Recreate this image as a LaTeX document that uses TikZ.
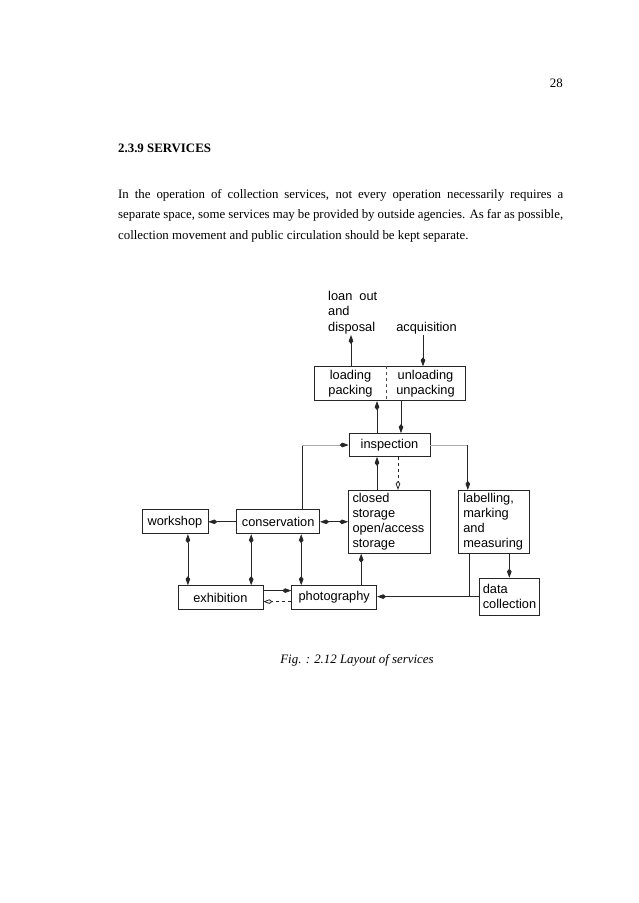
\documentclass[tikz,border=0pt]{standalone}
\usepackage{fontspec}
\setmainfont{Liberation Serif}
\newfontfamily\diagfont{Liberation Sans}
\usetikzlibrary{arrows.meta, positioning}

\begin{document}
\begin{tikzpicture}[x=1pt, y=-1pt,
    >={Kite[length=9pt, width=4.6pt, inset=2.8pt]},
    txt/.style={inner sep=0pt, font=\fontsize{12.86}{20.7}\selectfont},
    box/.style={draw=black!85, line width=0.8pt, inner sep=0pt,
                font=\diagfont\fontsize{12.8}{15}\selectfont},
    lbl/.style={inner sep=1pt, font=\diagfont\fontsize{12.8}{15.5}\selectfont},
    link/.style={line width=0.8pt, black!85},
    faint/.style={line width=0.7pt, gray!65},
    openhead/.style={-{Kite[open, length=9pt, width=4.6pt, inset=2.8pt]}},
    darkhead/.style={-{Kite[length=9pt, width=4.6pt, inset=2.8pt, color=black!85]}}]

  % page
  \fill[white] (0,0) rectangle (638,903);
  \useasboundingbox (0,0) rectangle (638,903);

  % Text of the page
  \node[txt, anchor=base east] (pnum) at (563,87) {28};
  \node[txt, font=\fontsize{12.86}{20.7}\selectfont\bfseries, anchor=base west]
    (head) at (118,152) {2.3.9 SERVICES};
  \node[txt, anchor=north west, text width=445pt, align=justify] (para) at (118,189)
    {In the operation of collection services, not every operation necessarily requires a\linebreak
     separate space, some services may be provided by outside agencies. As far as possible,\linebreak
     collection movement and public circulation should be kept separate.};
  \node[txt, font=\fontsize{12.86}{20.7}\selectfont\itshape, anchor=base]
    (cap) at (357,663) {Fig. : 2.12 Layout of services};

  % Boxes
  \node[box, minimum width=81pt, minimum height=23pt] (insp) at (389.5,445) {inspection};
  \node[box, minimum width=151pt, minimum height=34pt, above=32pt of insp] (load) {};
  \node[lbl, align=center] (pack) at ([xshift=-39pt]load.center) {loading\\packing};
  \node[lbl, align=center] (unpack) at ([xshift=36pt]load.center) {unloading\\unpacking};
  \draw[dashed, black!70, line width=0.6pt] ([xshift=-3pt]load.north) -- ([xshift=-3pt]load.south);

  \node[box, text width=74pt, align=left, inner xsep=4pt, minimum height=63pt,
        below=33pt of insp] (store) {closed\\storage\\open/access\\storage};
  \node[box, text width=61pt, align=left, inner xsep=5pt, minimum height=63pt,
        right=27pt of store] (mark) {labelling,\\marking\\and\\measuring};
  \node[box, text width=53pt, align=left, inner xsep=3.5pt, minimum height=37pt,
        below=24pt of mark, xshift=15.5pt] (data) {data\\collection};
  \node[box, minimum width=83pt, minimum height=24pt, left=28pt of store] (cons) {conservation};
  \node[box, minimum width=66pt, minimum height=24pt, left=28pt of cons] (work) {workshop};
  \node[box, minimum width=85pt, minimum height=24pt, below=51pt of cons, xshift=56pt] (photo) {photography};
  \node[box, minimum width=85pt, minimum height=24pt, left=28pt of photo] (exhib) {exhibition};

  % Outside
  \node[lbl, align=left, anchor=south west] (loan) at (327,335) {loan\ \ out\\and\\disposal};
  \node[lbl, anchor=south] (acq) at (426.5,335) {acquisition};

  % Arrows
  \draw[link, ->] ([xshift=-38.5pt]load.north) -- ([xshift=-38.5pt]load.north |- loan.south);
  \draw[link, ->] ([xshift=-3.5pt]acq.south) -- ([xshift=-3.5pt]acq.south |- load.north);
  \draw[link, ->] ([xshift=-12.5pt]insp.north) -- ([xshift=-12.5pt]insp.north |- load.south);
  \draw[link, ->] ([xshift=11.5pt]load.south) -- ([xshift=11.5pt]load.south |- insp.north);
  \draw[link, ->] ([xshift=-12.5pt]store.north) -- ([xshift=-12.5pt]store.north |- insp.south);
  \draw[link, dashed, openhead] ([xshift=8.5pt]insp.south) -- ([xshift=8.5pt]insp.south |- store.north);
  \draw[link, ->] ([xshift=27pt]photo.north) -- ([xshift=27pt]photo.north |- store.south);

  \draw[link] ([xshift=24pt]cons.north) -- ([xshift=24pt]cons.north |- insp.west);
  \draw[faint, darkhead] ([xshift=24pt]cons.north |- insp.west) -- (insp.west);
  \draw[faint] (insp.east) -- ([xshift=-26pt]mark.north |- insp.east);
  \draw[link, ->] ([xshift=-26pt]mark.north |- insp.east) -- ([xshift=-26pt]mark.north);

  \draw[link, ->] (data.north |- mark.south) -- (data.north);
  \draw[link] ([xshift=-24pt]mark.south) -- ([xshift=-24pt]mark.south |- data.west);
  \draw[link, ->] (data.west) -- (data.west -| photo.east);

  \draw[link, ->] (cons.west) -- (work.east);
  \draw[link, <->] (cons.east) -- (cons.east -| store.west);
  \draw[link, <->] ([xshift=13pt]work.south) -- ([xshift=13pt]work.south |- exhib.north);
  \draw[link, <->] ([xshift=-27pt]cons.south) -- ([xshift=-27pt]cons.south |- exhib.north);
  \draw[link, <->] ([xshift=23pt]cons.south) -- ([xshift=23pt]cons.south |- photo.north);
  \draw[link, ->] ([yshift=7pt]exhib.east) -- ([yshift=7pt]exhib.east -| photo.west);
  \draw[link, dashed, openhead] ([yshift=-4pt]photo.west) -- ([yshift=-4pt]photo.west -| exhib.east);
\end{tikzpicture}
\end{document}
